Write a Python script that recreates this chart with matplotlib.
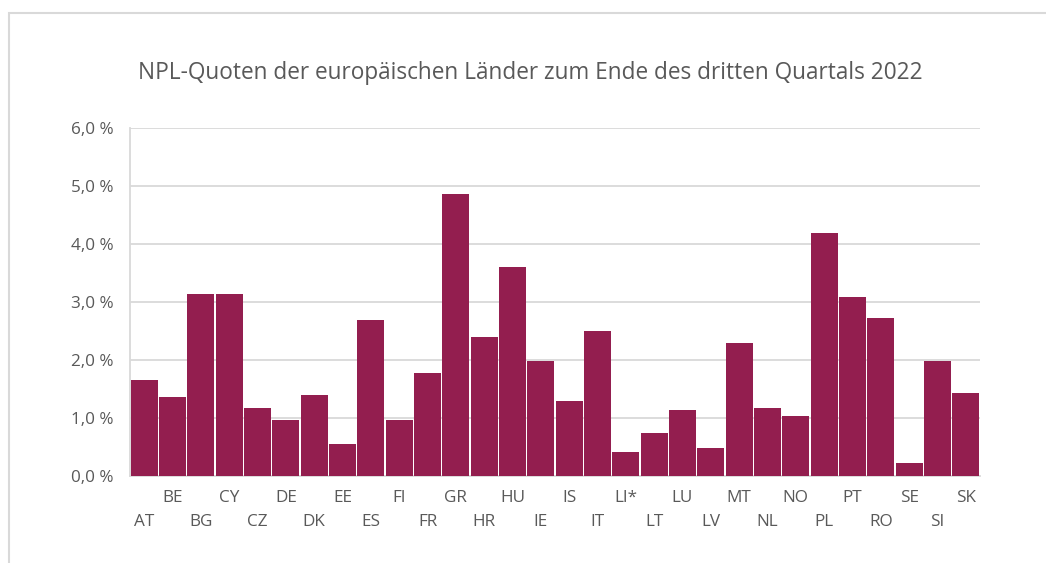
import matplotlib.pyplot as plt
from matplotlib.patches import Rectangle
from matplotlib.ticker import FuncFormatter

plt.rcParams['font.family'] = ['Open Sans', 'DejaVu Sans']

countries = ["AT", "BE", "BG", "CY", "CZ", "DE", "DK", "EE", "ES", "FI",
             "FR", "GR", "HR", "HU", "IE", "IS", "IT", "LI*", "LT", "LU",
             "LV", "MT", "NL", "NO", "PL", "PT", "RO", "SE", "SI", "SK"]
npl_ratio = [1.66, 1.36, 3.14, 3.14, 1.17, 0.97, 1.40, 0.55, 2.69, 0.97,
             1.78, 4.86, 2.40, 3.60, 1.98, 1.29, 2.50, 0.41, 0.74, 1.14,
             0.48, 2.29, 1.17, 1.03, 4.19, 3.09, 2.72, 0.22, 1.98, 1.43]
y_ticks = [0, 1, 2, 3, 4, 5, 6]

title = "NPL-Quoten der europäischen Länder zum Ende des dritten Quartals 2022"
bar_color = "#931e4f"
text_color = "#595959"
grid_color = "#d9d9d9"

fig = plt.figure(figsize=(10.46, 5.63), dpi=100)
ax = fig.add_axes([130 / 1046, 1 - 476 / 563, 850 / 1046, 348 / 563])

# light frame around the chart
fig.patches.append(Rectangle((9 / 1046, -0.1), 1.2, 1.1 - 13 / 563,
                             transform=fig.transFigure, fill=False,
                             edgecolor=grid_color, lw=1.5))

x = list(range(len(countries)))
ax.bar(x, npl_ratio, width=0.95, color=bar_color, zorder=3)

ax.set_xlim(-0.5, len(countries) - 0.5)
ax.set_ylim(0, 6)
ax.set_yticks(y_ticks)
ax.yaxis.set_major_formatter(FuncFormatter(lambda v, p: f"{v:.1f} %".replace(".", ",")))
ax.grid(axis="y", color=grid_color, lw=1.3, zorder=0)

labels = [c + "\n" if i % 2 else "\n" + c for i, c in enumerate(countries)]
ax.set_xticks(x)
ax.set_xticklabels(labels, linespacing=1.7)

ax.tick_params(axis="both", length=0, labelsize=12.3, labelcolor=text_color)
ax.tick_params(axis="y", pad=12)
ax.tick_params(axis="x", pad=10)

for side in ["top", "right"]:
    ax.spines[side].set_visible(False)
for side in ["left", "bottom"]:
    ax.spines[side].set_color(grid_color)
    ax.spines[side].set_linewidth(1.3)

fig.text(530 / 1046, 1 - 73 / 563, title, ha="center", va="center",
         fontsize=16.3, color=text_color)

fig.savefig("out.png", dpi=100)
